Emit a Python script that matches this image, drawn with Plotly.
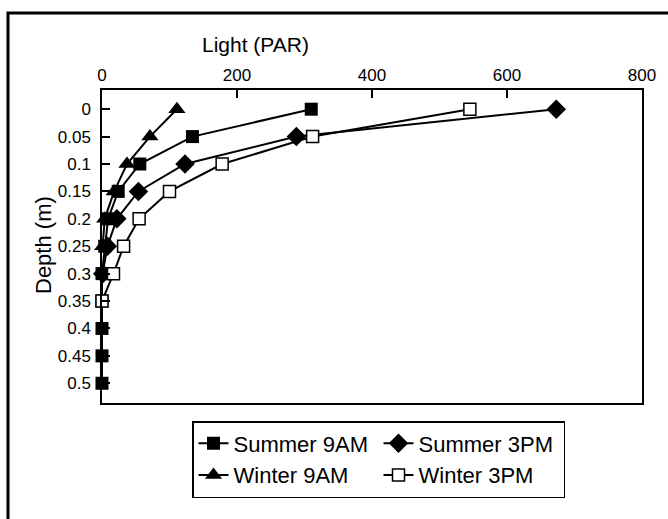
import plotly.graph_objects as go

depth = [0, 0.05, 0.1, 0.15, 0.2, 0.25, 0.3, 0.35, 0.4, 0.45, 0.5]
depth_labels = ["0", "0.05", "0.1", "0.15", "0.2", "0.25", "0.3", "0.35", "0.4", "0.45", "0.5"]
light_ticks = [0, 200, 400, 600, 800]

summer_9am = [310, 134, 56, 24, 9, 4, 0, 0, 0, 0, 0]
summer_3pm = [673, 288, 123, 54, 22, 8, 1]
winter_9am = [111, 71, 37, 18, 4, 1]
winter_3pm = [545, 312, 178, 100, 55, 32, 17, 0]

W, H = 668, 519
L, R, T, B = 102, 642, 90, 403
FONT = "Liberation Sans, Arial, sans-serif"

def px_x(px):
    return (px - L) / (R - L)

def px_y(py):
    return (B - py) / (B - T)

fig = go.Figure()
line = dict(color="black", width=2)
fig.add_trace(go.Scatter(x=summer_9am, y=depth[:len(summer_9am)], name="Summer 9AM",
                         mode="lines+markers", line=line, cliponaxis=False,
                         marker=dict(symbol="square", size=13, color="black")))
fig.add_trace(go.Scatter(x=summer_3pm, y=depth[:len(summer_3pm)], name="Summer 3PM",
                         mode="lines+markers", line=line, cliponaxis=False,
                         marker=dict(symbol="diamond", size=15, color="black")))
fig.add_trace(go.Scatter(x=winter_9am, y=depth[:len(winter_9am)], name="Winter 9AM",
                         mode="lines+markers", line=line, cliponaxis=False,
                         marker=dict(symbol="triangle-up", size=15, color="black")))
fig.add_trace(go.Scatter(x=winter_3pm, y=depth[:len(winter_3pm)], name="Winter 3PM",
                         mode="lines+markers", line=line, cliponaxis=False,
                         marker=dict(symbol="square", size=12, color="white",
                                     line=dict(color="black", width=1.5))))

fig.update_layout(
    width=W, height=H,
    margin=dict(l=L, r=W - R, t=T, b=H - B),
    paper_bgcolor="white", plot_bgcolor="white",
    font=dict(family=FONT, size=17, color="black"),
    showlegend=True,
    legend=dict(orientation="h", x=px_x(192), y=px_y(421), xanchor="left", yanchor="top",
                bordercolor="black", borderwidth=1.5, bgcolor="white",
                font=dict(size=22), entrywidth=140, itemwidth=30, tracegroupgap=0),
    xaxis=dict(side="top", range=[0, 800], tickvals=light_ticks,
               ticktext=[str(v) for v in light_ticks],
               ticks="inside", ticklen=8, tickcolor="black", tickwidth=1.5,
               showline=True, linecolor="black", linewidth=1.5, mirror=True,
               showgrid=False, zeroline=False, tickfont=dict(size=17)),
    yaxis=dict(range=[0.536, -0.035], tickvals=depth, ticktext=depth_labels,
               ticks="inside", ticklen=8, tickcolor="black", tickwidth=1.5,
               showline=True, linecolor="black", linewidth=1.5, mirror=True,
               showgrid=False, zeroline=False, tickfont=dict(size=17),
               ticklabelstandoff=6),
    annotations=[
        dict(text="Light (PAR)", x=px_x(255), y=px_y(44), xref="paper", yref="paper",
             showarrow=False, font=dict(size=21), xanchor="center", yanchor="middle"),
        dict(text="Depth (m)", x=px_x(43), y=px_y(245), xref="paper", yref="paper",
             showarrow=False, font=dict(size=22), textangle=-90,
             xanchor="center", yanchor="middle"),
    ],
    shapes=[
        dict(type="path", xref="paper", yref="paper",
             path=f"M {px_x(8)} {px_y(530)} L {px_x(8)} {px_y(13)} L {px_x(680)} {px_y(13)}",
             line=dict(color="black", width=3)),
    ],
)

fig.write_html("out.html")
